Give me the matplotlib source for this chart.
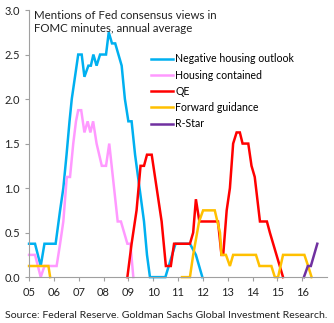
import numpy as np
import matplotlib
matplotlib.use("Agg")
import matplotlib.pyplot as plt

plt.rcParams["font.family"] = ["Lato", "DejaVu Sans"]

# values (x in years, y = mentions per meeting, annual avg)
neg_x = [2005.0, 2005.24, 2005.47, 2005.62, 2006.07, 2006.25, 2006.38, 2006.51,
         2006.63, 2006.72, 2006.85, 2006.98, 2007.12, 2007.23, 2007.39, 2007.49,
         2007.59, 2007.72, 2007.86, 2008.10, 2008.21, 2008.34, 2008.47, 2008.60,
         2008.73, 2008.86, 2009.0, 2009.13, 2009.27, 2009.39, 2009.51, 2009.63,
         2009.75, 2009.87, 2010.49, 2010.90, 2011.48, 2011.72, 2011.98]
neg_y = [0.375, 0.375, 0.125, 0.375, 0.375, 0.75, 1.0, 1.375,
         1.75, 2.0, 2.25, 2.5, 2.5, 2.25, 2.375, 2.375,
         2.5, 2.375, 2.5, 2.5, 2.75, 2.625, 2.625, 2.5,
         2.375, 2.0, 1.75, 1.75, 1.375, 1.125, 0.875, 0.625,
         0.25, 0.0, 0.0, 0.375, 0.375, 0.25, 0.0]

cont_x = [2005.0, 2005.24, 2005.47, 2005.62, 2006.11, 2006.25, 2006.38, 2006.52,
          2006.65, 2006.78, 2006.89, 2006.98, 2007.10, 2007.23, 2007.36, 2007.47,
          2007.58, 2007.72, 2007.93, 2008.10, 2008.23, 2008.57, 2008.70, 2008.96,
          2009.08, 2009.20]
cont_y = [0.25, 0.25, 0.0, 0.125, 0.125, 0.375, 0.625, 1.125,
          1.125, 1.5, 1.75, 1.875, 1.875, 1.625, 1.75, 1.625,
          1.75, 1.5, 1.25, 1.25, 1.5, 0.625, 0.625, 0.375,
          0.375, 0.0]

qe_x = [2008.96, 2009.13, 2009.33, 2009.49, 2009.63, 2009.75, 2009.94, 2010.14,
        2010.34, 2010.51, 2010.71, 2010.84, 2011.48, 2011.61, 2011.72, 2011.86,
        2012.61, 2012.75, 2012.82, 2012.96, 2013.09, 2013.22, 2013.36, 2013.49,
        2013.60, 2013.83, 2013.96, 2014.09, 2014.30, 2014.58, 2014.70, 2015.23]
qe_y = [0.0, 0.375, 0.75, 1.25, 1.25, 1.375, 1.375, 1.0,
        0.625, 0.125, 0.125, 0.375, 0.375, 0.5, 0.875, 0.625,
        0.625, 0.25, 0.25, 0.75, 1.0, 1.5, 1.625, 1.625,
        1.5, 1.5, 1.25, 1.125, 0.625, 0.625, 0.5, 0.0]

fg_x = [2005.0, 2005.78, 2005.85, np.nan, 2011.16, 2011.48, 2011.61, 2011.85,
        2012.01, 2012.48, 2012.69, 2012.75, 2012.93, 2013.09, 2013.22, 2014.14,
        2014.28, 2014.76, 2014.90, 2015.03, 2015.23, 2016.09, 2016.24, 2016.38]
fg_y = [0.125, 0.125, 0.0, np.nan, 0.0, 0.0, 0.25, 0.625,
        0.75, 0.75, 0.5, 0.25, 0.25, 0.125, 0.25, 0.25,
        0.125, 0.125, 0.0, 0.0, 0.25, 0.25, 0.125, 0.0]

rstar_x = [2016.07, 2016.23, 2016.35, 2016.61]
rstar_y = [0.0, 0.125, 0.125, 0.375]

series = [
    ("Negative housing outlook", neg_x, neg_y, "#00B0F0"),
    ("Housing contained", cont_x, cont_y, "#FF99FF"),
    ("QE", qe_x, qe_y, "#FF0000"),
    ("Forward guidance", fg_x, fg_y, "#FFC000"),
    ("R-Star", rstar_x, rstar_y, "#7030A0"),
]
year_ticks = list(range(2005, 2017))

fig = plt.figure(figsize=(3.34, 3.23), dpi=100)
ax = fig.add_axes([0.087, 0.142, 0.892, 0.827])

for name, xs, ys, col in series:
    ax.plot(xs, ys, color=col, linewidth=1.8, label=name, clip_on=False,
            solid_joinstyle="miter")

ax.set_xlim(2005, 2017)
ax.set_ylim(0, 3)
ax.set_xticks(year_ticks)
ax.set_xticklabels([f"{y % 100:02d}" for y in year_ticks])
ax.set_yticks(np.arange(0, 3.01, 0.5))
ax.set_yticklabels([f"{v:.1f}" for v in np.arange(0, 3.01, 0.5)])

for s in ("top", "right"):
    ax.spines[s].set_visible(False)
for s in ("left", "bottom"):
    ax.spines[s].set_color("#A0A0A0")
    ax.spines[s].set_linewidth(0.8)
ax.tick_params(colors="#A0A0A0", labelcolor="#222222", labelsize=8,
               length=3, width=0.8)
ax.tick_params(axis="x", pad=4)

ax.text(0.015, 1.0, "Mentions of Fed consensus views in\nFOMC minutes, annual average",
        transform=ax.transAxes, ha="left", va="top", fontsize=8.3,
        color="#222222", linespacing=1.25)

ax.legend(loc="upper left", bbox_to_anchor=(0.41, 0.838), frameon=False,
          fontsize=7.6, handlelength=2.1, handletextpad=0.2, labelspacing=0.5,
          borderaxespad=0, borderpad=0)

fig.text(0.014, 0.01, "Source: Federal Reserve. Goldman Sachs Global Investment Research.",
         ha="left", va="bottom", fontsize=7.55, color="#222222")

fig.savefig("out.png", dpi=100)
